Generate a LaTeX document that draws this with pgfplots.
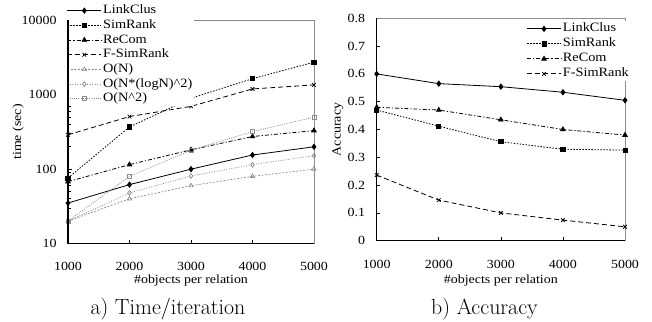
\documentclass[border=0pt]{standalone}
\usepackage{fontspec}
\setmainfont[FakeStretch=1.12]{Liberation Serif}
\newfontfamily\lmfont{Latin Modern Roman}
\usepackage{pgfplots}
\pgfplotsset{compat=1.18}
\begin{document}
\begin{tikzpicture}
\path (0bp,0bp) rectangle (652bp,322bp);
\pgfplotsset{
  mybase/.style={
    scale only axis,
    anchor=south west,
    axis line style={draw=black!45, line width=0.6bp},
    tick style={black, line width=0.6bp},
    major tick length=3.5bp,
    tick align=inside,
    xtick pos=bottom, ytick pos=left,
    xmin=1000, xmax=5000,
    xtick={1000,2000,3000,4000,5000},
    xticklabels={1000,2000,3000,4000,5000},
    xticklabel style={yshift=-15.6bp},
    yticklabel style={xshift=-8bp},
    tick label style={font=\fontsize{12.5}{14}\selectfont},
    label style={font=\fontsize{12.5}{14}\selectfont},
    xlabel={\#objects per relation},
    legend cell align=left,
    legend image code/.code={\draw[mark repeat=2,mark phase=2,##1] plot coordinates {(0bp,0bp)(17bp,0bp)(34bp,0bp)};},
    legend style={draw=none, fill=white, inner sep=0pt, row sep=0pt,
      font=\fontsize{12.8}{13}\selectfont,
      nodes={text height=9bp, text depth=3bp, inner sep=1.35bp}},
  },
  sLink/.style={black, line width=0.8bp, mark=diamond*, mark size=2.6bp, mark options={solid}},
  sSim/.style={black, line width=0.8bp, dash pattern=on 1.5bp off 1.5bp, mark=square*, mark size=2.1bp, mark options={solid}},
  sRe/.style={black, line width=0.8bp, dash pattern=on 4bp off 2bp on 1.2bp off 2bp, mark=triangle*, mark size=2.6bp, mark options={solid}},
  sF/.style={black, line width=0.8bp, dash pattern=on 5bp off 3bp, mark=x, mark size=2.6bp, mark options={solid}},
  sN/.style={black!45, line width=0.7bp, dash pattern=on 2bp off 1.5bp, mark=triangle, mark size=2.4bp, mark options={solid}},
  sNL/.style={black!45, line width=0.7bp, dash pattern=on 1bp off 1.5bp, mark=diamond, mark size=2.4bp, mark options={solid}},
  sN2/.style={black!45, line width=0.7bp, dash pattern=on 1bp off 1.2bp, mark=square, mark size=2bp, mark options={solid}},
}
\begin{axis}[mybase, name=L, at={(68bp,78.5bp)}, width=246bp, height=223bp,
  ymode=log, ymin=10, ymax=10000,
  ytick={10,100,1000,10000}, yticklabels={10,100,1000,10000},
  ylabel={time (sec)},
  ylabel style={at={(axis description cs:-0.203,0.5)}, anchor=center},
  xlabel style={at={(axis description cs:0.5,-0.167)}, anchor=center},
  legend style={at={(axis description cs:-0.005,1.078)}, anchor=north west}]
\addplot[sLink] coordinates {(1000,35)(2000,62)(3000,100)(4000,155)(5000,200)};
\addlegendentry{LinkClus}
\addplot[sSim] coordinates {(1000,76)(2000,370)(3000,900)(4000,1650)(5000,2750)};
\addlegendentry{SimRank}
\addplot[sRe] coordinates {(1000,68)(2000,115)(3000,182)(4000,275)(5000,330)};
\addlegendentry{ReCom}
\addplot[sF] coordinates {(1000,290)(2000,510)(3000,700)(4000,1200)(5000,1360)};
\addlegendentry{F-SimRank}
\addplot[sN] coordinates {(1000,20)(2000,40)(3000,60)(4000,80)(5000,100)};
\addlegendentry{O(N)}
\addplot[sNL] coordinates {(1000,20)(2000,48)(3000,81)(4000,115)(5000,152)};
\addlegendentry{O(N*(logN)\textasciicircum 2)}
\addplot[sN2] coordinates {(1000,20)(2000,80)(3000,180)(4000,320)(5000,500)};
\addlegendentry{O(N\textasciicircum 2)}
\end{axis}
\draw[black, line width=1.2bp] (L.north west) -- (L.south west) -- (L.south east);

\begin{axis}[mybase, name=R, at={(376.7bp,81.3bp)}, width=248.3bp, height=222.4bp,
  ymin=0, ymax=0.8,
  ytick={0,0.1,0.2,0.3,0.4,0.5,0.6,0.7,0.8},
  yticklabels={0,0.1,0.2,0.3,0.4,0.5,0.6,0.7,0.8},
  ylabel={Accuracy},
  ylabel style={at={(axis description cs:-0.156,0.5)}, anchor=center},
  xlabel style={at={(axis description cs:0.5,-0.18)}, anchor=center},
  legend style={nodes={text height=9bp, text depth=3bp, inner sep=1.5bp},
    at={(axis description cs:0.603,0.987)}, anchor=north west}]
\addplot[sLink] coordinates {(1000,0.60)(2000,0.565)(3000,0.554)(4000,0.534)(5000,0.505)};
\addlegendentry{LinkClus}
\addplot[sSim] coordinates {(1000,0.47)(2000,0.412)(3000,0.356)(4000,0.329)(5000,0.326)};
\addlegendentry{SimRank}
\addplot[sRe] coordinates {(1000,0.48)(2000,0.47)(3000,0.435)(4000,0.40)(5000,0.38)};
\addlegendentry{ReCom}
\addplot[sF] coordinates {(1000,0.236)(2000,0.146)(3000,0.10)(4000,0.074)(5000,0.05)};
\addlegendentry{F-SimRank}
\end{axis}
\draw[black, line width=1.2bp] (R.north west) -- (R.south west) -- (R.south east);

\node[anchor=base, font=\lmfont\fontsize{22}{26}\selectfont, inner sep=0pt] at (168bp,7.7bp) {a) Time/iteration};
\node[anchor=base, font=\lmfont\fontsize{22}{26}\selectfont, inner sep=0pt] at (484.5bp,7.7bp) {b) Accuracy};
\end{tikzpicture}
\end{document}
